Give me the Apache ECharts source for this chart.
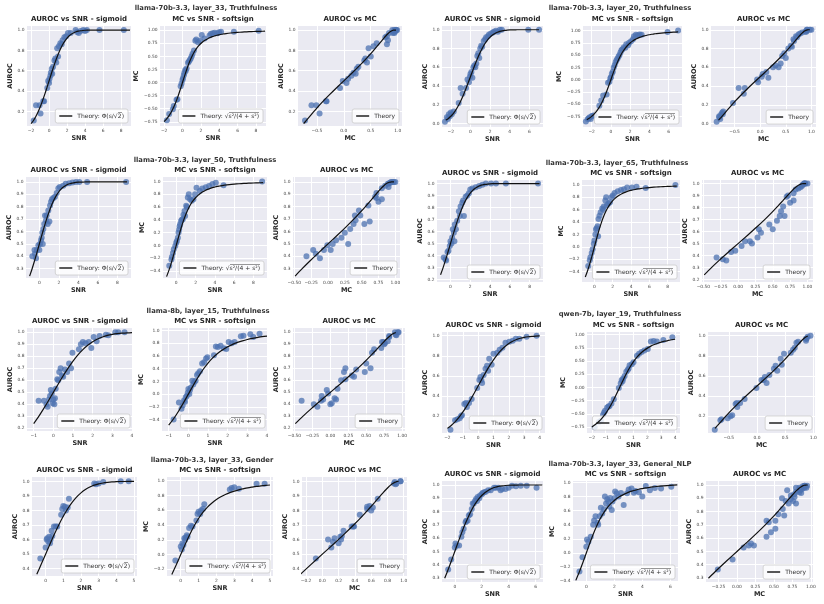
<!DOCTYPE html>
<html>
<head>
<meta charset="utf-8">
<script src="https://cdn.jsdelivr.net/npm/echarts@6/dist/echarts.min.js"></script>
<style>html,body{margin:0;padding:0;background:#fff}#chart{width:824px;height:604px}</style>
</head>
<body>
<div id="chart"></div>
<script>
// ---- data: one entry per probe (snr, auroc, mc) ----
const g1Snr = [-1.7,-1.45,-1.05,-0.95,-0.65,-0.55,-0.2,-0.1,0.0,0.05,0.15,0.2,0.3,0.35,0.45,0.6,0.7,0.8,0.9,1.0,1.1,1.25,1.4,1.5,1.7,1.9,2.1,2.4,2.95,3.1,3.3,3.5,3.8,4.0,4.2,5.6,8.3]
const g1Auroc = [0.11,0.26,0.26,0.18,0.30,0.30,0.43,0.50,0.48,0.52,0.55,0.58,0.62,0.57,0.64,0.70,0.72,0.68,0.82,0.74,0.84,0.87,0.86,0.90,0.93,0.94,0.97,0.97,1.0,0.98,0.97,0.99,1.0,0.99,1.0,1.0,1.0]
const g1Mc = [-0.72,-0.60,-0.51,-0.45,-0.33,-0.32,-0.07,-0.02,0.05,0.08,0.14,0.18,0.24,0.22,0.27,0.38,0.40,0.43,0.46,0.50,0.55,0.61,0.80,0.82,0.77,0.80,0.91,0.84,0.90,0.93,0.94,0.95,0.94,0.96,0.97,0.97,0.99]

const g2Snr = [-2.6,-2.4,-2.3,-2.2,-2.1,-2.0,-1.9,-1.7,-1.2,-1.0,-0.8,-0.45,-0.3,-0.15,-0.05,0.0,0.1,0.2,0.3,0.4,0.5,0.6,0.7,0.8,0.9,1.0,1.1,1.2,1.35,1.5,1.6,1.8,1.9,2.1,2.3,2.4,2.6,2.8,3.0,3.2,5.9,7.0]
const g2Auroc = [0.02,0.07,0.05,0.10,0.08,0.12,0.10,0.13,0.22,0.38,0.32,0.38,0.47,0.44,0.50,0.53,0.55,0.49,0.60,0.62,0.60,0.64,0.72,0.75,0.70,0.80,0.83,0.82,0.88,0.90,0.92,0.93,0.95,0.96,0.97,0.98,0.99,0.98,1.0,1.0,1.0,1.0]
const g2Mc = [-0.85,-0.80,-0.78,-0.76,-0.80,-0.74,-0.73,-0.72,-0.53,-0.42,-0.32,-0.30,-0.06,-0.04,0.03,0.05,0.12,0.16,0.25,0.30,0.36,0.40,0.43,0.47,0.50,0.55,0.60,0.62,0.66,0.65,0.72,0.70,0.75,0.78,0.82,0.88,0.91,0.90,0.92,0.91,0.97,1.0]

const g3Snr = [-0.72,-0.5,-0.45,-0.34,-0.25,-0.1,0.0,0.07,0.17,0.24,0.3,0.35,0.41,0.5,0.58,0.68,0.75,0.86,0.92,1.03,1.1,1.2,1.3,1.44,1.6,1.78,1.95,2.1,2.45,2.7,3.06,3.4,3.75,4.1,4.9,8.9]
const g3Auroc = [0.40,0.45,0.42,0.385,0.45,0.49,0.45,0.50,0.53,0.55,0.59,0.50,0.62,0.66,0.73,0.69,0.73,0.66,0.77,0.68,0.81,0.84,0.86,0.87,0.88,0.91,0.95,0.96,0.97,0.985,0.99,0.995,1.0,1.0,1.0,1.0]
const g3Mc = [-0.32,-0.22,-0.18,-0.12,-0.06,-0.01,0.04,0.07,0.12,0.20,0.25,0.30,0.33,0.38,0.40,0.41,0.48,0.54,0.46,0.62,0.60,0.75,0.80,0.72,0.70,0.72,0.80,0.90,0.85,0.89,0.91,0.93,0.96,0.98,0.94,1.0]

const g4Snr = [-0.68,-0.51,-0.44,-0.3,-0.2,-0.07,0.0,0.1,0.17,0.24,0.34,0.4,0.44,0.55,0.68,0.85,0.95,1.02,1.19,1.28,1.36,1.53,1.7,1.87,2.0,2.2,2.55,2.9,3.23,3.57,4.1,4.6,5.6,8.85]
const g4Auroc = [0.385,0.37,0.36,0.43,0.44,0.48,0.52,0.50,0.55,0.62,0.59,0.52,0.66,0.62,0.69,0.77,0.73,0.81,0.84,0.86,0.73,0.89,0.90,0.92,0.95,0.96,0.97,0.98,0.99,1.0,1.0,1.0,1.0,1.0]
const g4Mc = [-0.31,-0.22,-0.17,-0.10,-0.04,0.05,0.10,0.20,0.28,0.30,0.33,0.17,0.45,0.50,0.56,0.62,0.60,0.65,0.75,0.80,0.67,0.70,0.72,0.80,0.83,0.87,0.90,0.92,0.93,0.96,0.96,0.97,0.95,1.0]

const g5Snr = [-0.75,-0.48,-0.35,-0.29,-0.22,-0.17,-0.13,-0.08,-0.03,0.0,0.05,0.08,0.12,0.2,0.25,0.3,0.37,0.44,0.5,0.59,0.7,0.8,0.9,0.97,1.3,1.4,1.5,1.64,1.8,1.93,2.05,2.2,2.35,2.67,2.8,3.15,3.3,3.62]
const g5Auroc = [0.43,0.43,0.40,0.38,0.44,0.47,0.52,0.49,0.41,0.44,0.40,0.45,0.53,0.61,0.60,0.67,0.70,0.64,0.63,0.69,0.67,0.74,0.70,0.83,0.86,0.90,0.92,0.91,0.92,0.87,0.96,0.925,0.97,0.98,0.975,1.0,1.0,1.0]
const g5Mc = [-0.40,-0.13,-0.23,-0.18,-0.10,-0.12,-0.05,-0.03,0.02,0.08,0.0,0.06,0.10,0.21,0.15,0.19,0.21,0.30,0.33,0.36,0.48,0.50,0.56,0.58,0.61,0.75,0.74,0.76,0.72,0.71,0.82,0.80,0.82,0.91,0.92,0.94,0.90,0.95]

const g6Snr = [-1.8,-1.5,-1.35,-1.2,-1.12,-1.05,-0.9,-0.8,-0.73,-0.59,-0.42,-0.06,0.08,0.15,0.21,0.26,0.36,0.48,0.58,0.65,0.72,0.88,1.0,1.25,1.4,1.58,1.78,2.03,2.25,2.45,2.68,3.15,3.8]
const g6Auroc = [0.066,0.16,0.17,0.18,0.20,0.21,0.32,0.33,0.29,0.33,0.37,0.48,0.56,0.59,0.56,0.53,0.61,0.67,0.70,0.65,0.77,0.71,0.82,0.83,0.86,0.88,0.93,0.94,0.95,0.97,0.97,0.99,1.0]
const g6Mc = [-0.75,-0.65,-0.63,-0.52,-0.47,-0.44,-0.38,-0.36,-0.35,-0.30,-0.22,-0.01,0.08,0.14,0.12,0.17,0.22,0.30,0.33,0.36,0.42,0.44,0.48,0.60,0.64,0.67,0.70,0.73,0.87,0.88,0.87,0.90,0.95]

const g7Snr = [-0.3,0.0,0.06,0.09,0.15,0.2,0.25,0.28,0.34,0.38,0.47,0.57,0.66,0.88,0.94,1.0,1.09,1.15,1.25,1.32,2.75,2.85,3.0,3.26,4.25,4.7]
const g7Auroc = [0.47,0.545,0.60,0.61,0.585,0.62,0.575,0.60,0.66,0.625,0.69,0.69,0.69,0.77,0.81,0.83,0.825,0.80,0.82,0.88,0.985,0.98,0.985,0.995,1.0,1.0]
const g7Mc = [-0.08,0.11,0.07,0.15,0.13,0.22,0.20,0.23,0.26,0.24,0.36,0.39,0.38,0.46,0.55,0.58,0.55,0.60,0.62,0.68,0.88,0.90,0.91,0.89,0.96,0.96]

const g8Snr = [-0.49,-0.27,0.0,0.05,0.15,0.32,0.49,0.56,0.66,0.8,0.85,0.95,1.04,1.14,1.26,1.33,1.41,1.5,1.58,1.65,1.7,1.82,1.87,2.01,2.06,2.18,2.3,2.48,2.67,2.91,3.03,3.23,3.4,3.52,3.76,4.0,4.25,4.54,4.9,5.34,6.07]
const g8Auroc = [0.365,0.44,0.53,0.56,0.545,0.545,0.61,0.645,0.67,0.72,0.73,0.73,0.77,0.78,0.82,0.86,0.86,0.88,0.895,0.88,0.91,0.90,0.92,0.93,0.94,0.945,0.95,0.96,0.96,0.98,0.98,0.98,0.96,0.97,0.97,0.98,0.995,0.99,0.995,0.995,0.98]
const g8Mc = [-0.26,-0.06,0.09,0.19,0.16,0.23,0.40,0.46,0.52,0.43,0.40,0.52,0.64,0.56,0.62,0.80,0.70,0.76,0.73,0.66,0.78,0.61,0.73,0.775,0.87,0.845,0.80,0.85,0.68,0.845,0.90,0.915,0.855,0.88,0.86,0.80,0.95,0.89,0.92,0.915,0.94]

// theory curves, sampled along SNR
const theorySnr = [-3,-2.75,-2.5,-2.25,-2,-1.75,-1.5,-1.25,-1,-0.75,-0.5,-0.25,0,0.25,0.5,0.75,1,1.25,1.5,1.75,2,2.25,2.5,2.75,3,3.25,3.5,3.75,4,4.25,4.5,4.75,5,5.5,6,6.5,7,7.5,8,8.5,9,9.5,10]
const theoryAuroc = [0.017,0.026,0.039,0.056,0.079,0.108,0.144,0.188,0.240,0.298,0.362,0.430,0.5,0.570,0.638,0.702,0.760,0.812,0.856,0.892,0.921,0.944,0.961,0.974,0.983,0.989,0.993,0.996,0.998,0.999,0.999,1.0,1.0,1.0,1.0,1.0,1.0,1.0,1.0,1.0,1.0,1.0,1.0]
const theoryMc = [-0.859,-0.838,-0.813,-0.783,-0.745,-0.699,-0.643,-0.573,-0.488,-0.387,-0.269,-0.138,0,0.138,0.269,0.387,0.488,0.573,0.643,0.699,0.745,0.783,0.813,0.838,0.859,0.876,0.890,0.903,0.913,0.922,0.929,0.936,0.942,0.951,0.958,0.964,0.969,0.973,0.976,0.979,0.981,0.983,0.985]

// tick labels
const ticksSnrG1 = [-2,0,2,4,6,8]
const ticksSnrG2 = [-2,0,2,4,6]
const ticksSnrEven = [0,2,4,6,8]
const ticksSnrG5 = [-1,0,1,2,3,4]
const ticksSnrG6 = [-2,-1,0,1,2,3,4]
const ticksSnrG7 = [0,1,2,3,4,5]
const ticksSnrG8 = [0,2,4,6]
const ticksAurocA = [0.2,0.4,0.6,0.8,1.0]
const ticksAurocB = [0.0,0.2,0.4,0.6,0.8,1.0]
const ticksAuroc3 = [0.3,0.4,0.5,0.6,0.7,0.8,0.9,1.0]
const ticksAuroc2 = [0.2,0.3,0.4,0.5,0.6,0.7,0.8,0.9,1.0]
const ticksAuroc4 = [0.4,0.5,0.6,0.7,0.8,0.9,1.0]
const ticksMcQ = [-0.75,-0.5,-0.25,0,0.25,0.5,0.75,1.0]
const ticksMcF = [-0.4,-0.2,0.0,0.2,0.4,0.6,0.8,1.0]
const ticksMcG7 = [-0.2,0.0,0.2,0.4,0.6,0.8,1.0]
const ticksMcXH = [-0.5,0.0,0.5,1.0]
const ticksMcXQ = [-0.5,-0.25,0,0.25,0.5,0.75,1.0]
const ticksMcXG8 = [-0.25,0,0.25,0.5,0.75,1.0]
const ticksMcXG7 = [-0.2,0.0,0.2,0.4,0.6,0.8,1.0]

const groups = [
  { title: 'llama-70b-3.3, layer_33, Truthfulness', snr: g1Snr, auroc: g1Auroc, mc: g1Mc, curve: [-2, 9] },
  { title: 'llama-70b-3.3, layer_20, Truthfulness', snr: g2Snr, auroc: g2Auroc, mc: g2Mc, curve: [-2.5, 7] },
  { title: 'llama-70b-3.3, layer_50, Truthfulness', snr: g3Snr, auroc: g3Auroc, mc: g3Mc, curve: [-1, 9] },
  { title: 'llama-70b-3.3, layer_65, Truthfulness', snr: g4Snr, auroc: g4Auroc, mc: g4Mc, curve: [-1, 9] },
  { title: 'llama-8b, layer_15, Truthfulness', snr: g5Snr, auroc: g5Auroc, mc: g5Mc, curve: [-1, 4] },
  { title: 'qwen-7b, layer_19, Truthfulness', snr: g6Snr, auroc: g6Auroc, mc: g6Mc, curve: [-2, 4] },
  { title: 'llama-70b-3.3, layer_33, Gender', snr: g7Snr, auroc: g7Auroc, mc: g7Mc, curve: [-0.5, 5] },
  { title: 'llama-70b-3.3, layer_33, General_NLP', snr: g8Snr, auroc: g8Auroc, mc: g8Mc, curve: [-0.75, 6.5] }
]

// layout: header position, plot boxes [left, top, width, height], axis ranges [min, max, ticks, decimals]
const layout = [
  { head: [206, 5], boxes: [[27,26,104,100],[160,26,106,100],[298,26,104,100]],
    sx: [-2.45, 9.1, ticksSnrG1, 0], ay: [0.056, 1.04, ticksAurocA, 1], my: [-0.83, 1.08, ticksMcQ, 2], mx: [-0.85, 1.08, ticksMcXH, 1] },
  { head: [620, 5], boxes: [[442,26,101,101],[583,26,99,101],[711,26,105,101]],
    sx: [-2.9, 7.4, ticksSnrG2, 0], ay: [-0.035, 1.04, ticksAurocB, 1], my: [-0.96, 1.09, ticksMcQ, 2], mx: [-0.96, 1.09, ticksMcXH, 1] },
  { head: [205, 157], boxes: [[26,177,105,101],[163,177,104,101],[293,177,107,101]],
    sx: [-1.37, 9.4, ticksSnrEven, 0], ay: [0.225, 1.04, ticksAuroc3, 1], my: [-0.51, 1.07, ticksMcF, 1], mx: [-0.52, 1.07, ticksMcXQ, 2] },
  { head: [617, 160], boxes: [[437,180,106,102],[582,180,98,102],[702,180,111,102]],
    sx: [-1.36, 9.35, ticksSnrEven, 0], ay: [0.18, 1.03, ticksAuroc2, 1], my: [-0.57, 1.08, ticksMcF, 1], mx: [-0.52, 1.08, ticksMcXQ, 2] },
  { head: [208, 308], boxes: [[27,328,106,103],[162,328,106,103],[293,328,112,103]],
    sx: [-1.34, 4.05, ticksSnrG5, 0], ay: [0.178, 1.036, ticksAuroc2, 1], my: [-0.58, 1.04, ticksMcF, 1], mx: [-0.52, 1.04, ticksMcXQ, 2] },
  { head: [620, 311], boxes: [[442,332,103,101],[587,332,93,101],[708,332,107,101]],
    sx: [-2.35, 4.35, ticksSnrG6, 0], ay: [0.033, 1.036, ticksAurocA, 1], my: [-0.86, 1.05, ticksMcQ, 2], mx: [-0.87, 1.03, ticksMcXH, 1] },
  { head: [212, 457], boxes: [[32,477,105,99],[167,477,106,99],[302,477,105,99]],
    sx: [-0.77, 5.17, ticksSnrG7, 0], ay: [0.35, 1.03, ticksAuroc4, 1], my: [-0.29, 1.05, ticksMcG7, 1], mx: [-0.25, 1.04, ticksMcXG7, 1] },
  { head: [620, 461], boxes: [[442,481,101,101],[573,481,105,101],[706,481,107,101]],
    sx: [-0.95, 6.55, ticksSnrG8, 0], ay: [0.27, 1.03, ticksAuroc3, 1], my: [-0.41, 1.02, ticksMcF, 1], mx: [-0.42, 1.03, ticksMcXG8, 2] }
]

const FONT = 'DejaVu Sans'
const TEXT = '#262626'
const fmt = (v, d) => (v < -1e-9 ? '\u2212' : '') + Math.abs(v).toFixed(d)

// a thin bar along the top of a rich-text box, used as the vinculum of the square root
const vinculum = document.createElement('canvas')
vinculum.width = 4
vinculum.height = 9
const vctx = vinculum.getContext('2d')
vctx.fillStyle = '#333333'
vctx.fillRect(0, 0, 4, 1)

const legendText = {
  sig: 'Theory: \u03a6(s/\u221a{ov|2})',
  soft: 'Theory: \u221a{ov|s\u00b2/(4 + s\u00b2)}',
  plain: 'Theory'
}

const grid = [], xAxis = [], yAxis = [], series = [], title = [], legend = []

function makeAxis(spec, name, gap, gridIndex) {
  const [min, max, ticks, dec] = spec
  return {
    type: 'value', gridIndex, min, max, name,
    nameLocation: 'middle', nameGap: gap,
    nameTextStyle: { fontFamily: FONT, fontWeight: 'bold', fontSize: 6.5, color: TEXT },
    axisLine: { show: false },
    axisTick: { show: false, customValues: ticks },
    axisLabel: { customValues: ticks, formatter: v => fmt(v, dec), fontSize: 4.4, color: '#444', margin: 2.5, fontFamily: FONT },
    splitLine: { show: true, lineStyle: { color: '#ffffff', width: 1 } }
  }
}

function addPanel(box, xSpec, ySpec, xName, yName, panelTitle, legendName, points, curve) {
  const i = grid.length
  const [l, t, w, h] = box
  grid.push({ left: l, top: t, width: w, height: h, show: true, backgroundColor: '#EAEAF2', borderWidth: 0, outerBoundsMode: 'none' })
  xAxis.push(makeAxis(xSpec, xName, 8.5, i))
  yAxis.push(makeAxis(ySpec, yName, ySpec[3] === 2 ? 12.5 : 10.5, i))
  series.push({
    type: 'scatter', xAxisIndex: i, yAxisIndex: i, data: points, symbolSize: 6, silent: true,
    itemStyle: { color: '#4C72B0', opacity: 0.75 }
  })
  series.push({
    type: 'line', name: legendName, xAxisIndex: i, yAxisIndex: i, data: curve, showSymbol: false,
    smooth: 0.3, silent: true, z: 5,
    lineStyle: { color: '#111111', width: 1.2 }, itemStyle: { color: '#111111' }
  })
  title.push({
    text: panelTitle, left: l + w / 2, top: t - 10.5, textAlign: 'center', padding: 0,
    textStyle: { fontFamily: FONT, fontSize: 7, fontWeight: 'bold', color: TEXT }
  })
  legend.push({
    data: [legendName], right: 824 - (l + w) + 3, bottom: 604 - (t + h) + 3,
    icon: 'rect', itemWidth: 13, itemHeight: 1.4, itemGap: 4, padding: [2.5, 4],
    backgroundColor: 'rgba(255,255,255,0.8)', borderColor: '#cccccc', borderWidth: 0.8, borderRadius: 2,
    selectedMode: false,
    formatter: n => legendText[n],
    textStyle: {
      fontFamily: FONT, fontSize: 6, color: '#333', lineHeight: 9,
      rich: { ov: { fontFamily: FONT, fontSize: 6, color: '#333', lineHeight: 9, height: 9, backgroundColor: { image: vinculum } } }
    }
  })
}

groups.forEach((g, k) => {
  const L = layout[k]
  const [lo, hi] = g.curve
  const idx = theorySnr.map((s, j) => j).filter(j => theorySnr[j] >= lo - 1e-9 && theorySnr[j] <= hi + 1e-9)
  title.push({
    text: g.title, left: L.head[0], top: L.head[1], textAlign: 'center', padding: 0,
    textStyle: { fontFamily: FONT, fontSize: 6.8, fontWeight: 'bold', color: '#333' }
  })
  addPanel(L.boxes[0], L.sx, L.ay, 'SNR', 'AUROC', 'AUROC vs SNR - sigmoid', 'sig',
    g.snr.map((s, j) => [s, g.auroc[j]]), idx.map(j => [theorySnr[j], theoryAuroc[j]]))
  addPanel(L.boxes[1], L.sx, L.my, 'SNR', 'MC', 'MC vs SNR - softsign', 'soft',
    g.snr.map((s, j) => [s, g.mc[j]]), idx.map(j => [theorySnr[j], theoryMc[j]]))
  addPanel(L.boxes[2], L.mx, L.ay, 'MC', 'AUROC', 'AUROC vs MC', 'plain',
    g.mc.map((m, j) => [m, g.auroc[j]]), idx.map(j => [theoryMc[j], theoryAuroc[j]]))
})

const chart = echarts.init(document.getElementById('chart'), null, { renderer: 'canvas' })
chart.setOption({
  animation: false,
  backgroundColor: '#ffffff',
  textStyle: { fontFamily: FONT },
  title, legend, grid, xAxis, yAxis, series
})
</script>
</body>
</html>
